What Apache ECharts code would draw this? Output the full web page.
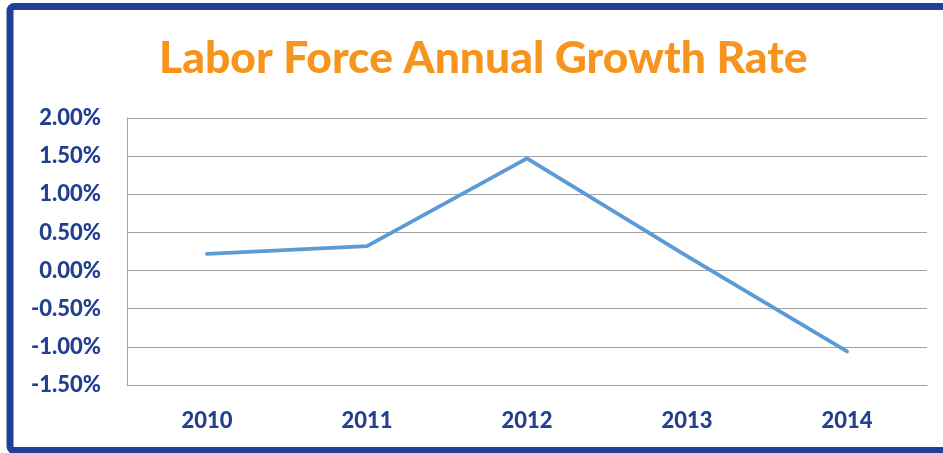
<!DOCTYPE html>
<html>
<head>
<meta charset="utf-8">
<script src="https://cdn.jsdelivr.net/npm/echarts@6/dist/echarts.min.js"></script>
<style>
  html, body { margin: 0; padding: 0; background: #ffffff; }
  #chart { width: 943px; height: 453px; }
</style>
</head>
<body>
<div id="chart"></div>
<script>
// Labor force annual growth rate, in percent
const years = ['2010', '2011', '2012', '2013', '2014'];
const growthRate = [0.22, 0.32, 1.47, 0.19, -1.06];
const yMin = -1.5;
const yMax = 2.0;
const yStep = 0.5;

const titleText = 'Labor Force Annual Growth Rate';
const labelBlue = '#233F8F';
const gridGray = '#A3A3A3';

const chart = echarts.init(document.getElementById('chart'), null, { renderer: 'canvas' });

chart.setOption({
  backgroundColor: '#ffffff',
  animation: false,
  title: {
    text: titleText,
    left: 154,
    top: 32,
    textStyle: {
      fontFamily: 'Lato',
      fontWeight: 900,
      fontSize: 44.4,
      color: '#F7941D'
    }
  },
  graphic: [{
    type: 'rect',
    shape: { x: 10, y: 6.5, width: 980, height: 444, r: 4 },
    style: { fill: 'none', stroke: '#21409A', lineWidth: 7 },
    silent: true
  }],
  grid: { left: 127, right: 16, top: 118, bottom: 68 },
  xAxis: {
    type: 'category',
    data: years,
    boundaryGap: true,
    axisLine: { show: true, onZero: false, lineStyle: { color: gridGray, width: 1 } },
    axisTick: { show: false },
    axisLabel: {
      margin: 25,
      color: labelBlue,
      fontFamily: 'Lato',
      fontWeight: 900,
      fontSize: 22
    }
  },
  yAxis: {
    type: 'value',
    min: yMin,
    max: yMax,
    interval: yStep,
    axisLine: { show: true, lineStyle: { color: gridGray, width: 1 } },
    axisTick: { show: false },
    splitLine: { show: true, lineStyle: { color: gridGray, width: 1 } },
    axisLabel: {
      margin: 26,
      color: labelBlue,
      fontFamily: 'Lato',
      fontWeight: 900,
      fontSize: 22,
      formatter: v => v.toFixed(2) + '%'
    }
  },
  series: [{
    type: 'line',
    data: growthRate,
    symbol: 'none',
    lineStyle: { color: '#5B9BD5', width: 3.8, cap: 'round', join: 'round' }
  }]
});
</script>
</body>
</html>
